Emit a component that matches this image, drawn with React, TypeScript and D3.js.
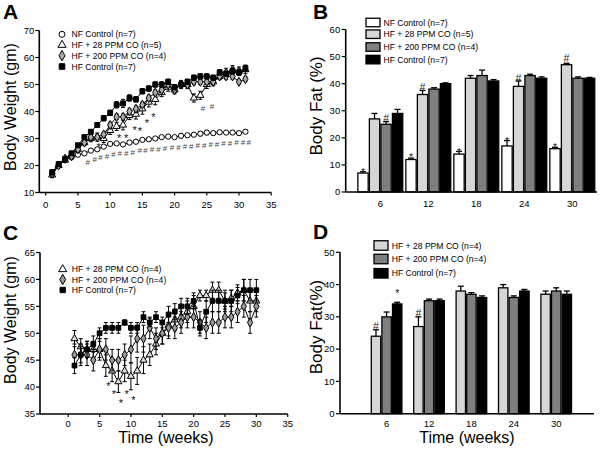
import React from 'react';
import * as d3 from 'd3';

const FONT = '"Liberation Sans", Arial, Helvetica, sans-serif';

// ---------------- Panel A data ----------------
const weeksA = [1,2,3,4,5,6,7,8,9,10,11,12,13,14,15,16,17,18,19,20,21,22,23,24,25,26,27,28,29,30,31];
const nfA = [17,20,22,23,24,24.5,25.5,26,27,28,28.2,27.8,28.5,28.8,29.5,29.7,30,30.5,30.7,30.5,31,31.2,31.4,31.8,32.2,32,32.3,32.2,32.2,32,32.5];
const nfASe = [0.8,0.5,0.5,0.5,0.5,0.5,0.5,0.5,0.5,0.5,0.5,0.5,0.5,0.5,0.5,0.5,0.5,0.5,0.5,0.5,0.6,0.6,0.6,0.8,0.8,0.6,0.6,0.6,0.6,0.6,0.6];
const hf28A = [16.5,20,22,24,26,28.5,30,30.5,30,33,34.5,35,38.5,39,41,43.5,44.5,47,49,48,50,50,45,46,50,51,53,54.5,55.5,55,55.5];
const hf28ASe = [1,0.8,0.8,0.8,1,1,1.2,1.5,1.5,1.5,1.5,1.8,1.5,1.8,2,1.8,2,1.5,1.5,1.5,1.5,1.5,1.5,1.5,1.5,1.5,1.2,1.5,1.5,1.5,1.5];
const hf200A = [17,20,22.5,23.5,26,28.5,30.5,30.5,31.5,35,38,38,40,41,42.5,45,47,48,50,48,50,50,51,51,51,51,53,53,53,51,52];
const hf200ASe = [1,0.5,0.5,0.5,0.5,0.8,0.8,0.8,0.8,1,1,1,1,1,1,1,1,1,1,1,1,1,1,1,1,1,1,1,1,0.8,0.8];
const hfcA = [17.5,20.5,22.5,24.5,27.5,30.5,32.5,35,37.5,39.5,42.5,43,45,44.5,47.5,48.5,50,50,51,49,50,51,52.5,53,53,52.5,54.5,54,55,54.5,56];
const hfcASe = [1,0.5,0.5,0.5,0.5,0.8,0.8,0.8,1,1,1.2,1.5,1.2,1,1,1,1,1,1,1,1,1,1,1,1,1,1,1,1.2,1.2,1.2];
const xTicksA = [0,5,10,15,20,25,30,35];
const yTicksA = [10,20,30,40,50,60,70];
const starsAx = [8.2,11.4,12.5,13.8,14.6,15.7,16.7];
const starsAy = [28,31,31,34.2,33.8,36.6,39.1];
const hashAx = [6.5,7.6,8.5,9.5,10.5,11.5,12.5,13.5,14.6,15.5,16.5,17.5,18.5,19.6,20.6,21.6,22.6,23.6,24.6,25.6,26.6,27.6,28.6,29.6,30.6,31.5,24.4,25.8];
const hashAy = [21.2,22.3,22.9,23.6,24.3,24.5,24.7,25,25.5,25.7,26,26.2,26.4,26.6,26.8,27,27.2,27.4,27.6,27.8,28,28.2,28.4,28.6,28.7,28.8,41.2,41.8];

// ---------------- Panel C data ----------------
const weeksC = [1,2,3,4,5,6,7,8,9,10,11,12,13,14,15,16,17,18,19,20,21,22,23,24,25,26,27,28,29,30];
const hf28C = [49,47.5,47,47,47,44,43,41,43,42,43,45,46,48,50,51.5,52.5,53,54,55,57,57,58,58,56,56.5,57.5,58,56,56];
const hf28CSe = [1.5,1.5,1.5,1.5,1.5,2,2,2,2,2.5,2.5,2.5,2,2,2,2,2,2,2,2,1,1,1.5,1.5,1.5,1.5,1.5,2,2,2];
const hf200C = [46,46,46,45,47,47,45,45,46,47,49,49,51,49,50,51,51,52,53,53,52,51,52,52,53,53,54,55,52,55];
const hf200CSe = [2,2,2,2,2,2,2,2,2,2.5,2.5,2.5,2,2,2,2,2,2,2,2,2,2,2,2,2,2,2,2,2,2];
const hfcC = [44,46,47,48,50,51,51,51,52,51,51,53,52,53,52,53.5,54,55,55,56,51,54,56,56,56,56,57,58,58,58];
const hfcCSe = [1.5,1.5,1.5,1.5,1,1,1,1,0.5,1,1,1,0.8,1,1,1.5,1.5,1.5,1.5,1.5,1.5,2,2,2,2,2,1.5,2,2,2];
const xTicksC = [0,5,10,15,20,25,30,35];
const yTicksC = [35,40,45,50,55,60,65];
const starsCx = [6.4,7.3,8.4,9.3,10.4];
const starsCy = [40.7,39.2,37.5,39.2,38];

// ---------------- Panel B data ----------------
const groupsB = ['6','12','18','24','30'];
const nfB = [7,12,14,17,16];
const nfBSe = [0.5,0.5,1,2,0.5];
const hf28B = [27,36,42,39,47];
const hf28BSe = [2,1.5,1,2,0.5];
const hf200B = [25,38,43,43,42];
const hf200BSe = [1,0.5,2,0.5,0.5];
const hfcB = [29,40,41,42,42];
const hfcBSe = [1.5,0.3,0.5,0.5,0.3];
const yTicksB = [0,10,20,30,40,50,60];
// significance marks: group index, series index, symbol, value
const marksBg = [0,0,1,1,2,3,3,4,4];
const marksBs = [0,2,0,1,0,0,1,0,1];
const marksBsym = ['*','#','*','#','*','*','#','*','#'];
const marksBv = [8.3,27.2,13.6,38.6,15.6,19.8,41.8,17.3,49.2];

// ---------------- Panel D data ----------------
const groupsD = ['6','12','18','24','30'];
const hf28D = [24,27,38,39,37];
const hf28DSe = [2,3,1.5,1,1];
const hf200D = [30,35,37,36,38];
const hf200DSe = [1.5,0.5,0.5,0.5,1];
const hfcD = [34,35,36,38,37];
const hfcDSe = [0.5,0.5,0.5,0.5,1];
const yTicksD = [0,10,20,30,40,50];
const marksDg = [0,1,0];
const marksDs = [0,0,2];
const marksDsym = ['#','#','*'];
const marksDv = [27,31,38];

const symTypes: Record<string, any> = {
  circle: d3.symbolCircle,
  triangle: d3.symbolTriangle,
  diamond: d3.symbolDiamond,
  square: d3.symbolSquare,
};

function Marker({ shape, x, y, fill, size }: any) {
  const d = d3.symbol().type(symTypes[shape]).size(size)() as string;
  return <path d={d} transform={`translate(${x},${y})`} fill={fill} stroke="#000" strokeWidth={1} />;
}

function SigText({ x, y, sym, size, color }: any) {
  const dy = sym === '*' ? 0.6 * size : 0.35 * size;
  return (
    <text x={x} y={y + dy} fontSize={size} textAnchor="middle" fill={color} fontFamily={FONT}>
      {sym}
    </text>
  );
}

function LinePanel(props: any) {
  const { xd, xr, yd, yr, xTicks, yTicks, series, legend, stars, hashes, letter, letterPos, ylabelPos, xlabel, xlabelPos, tickLabelY } = props;
  const x = d3.scaleLinear().domain(xd).range(xr);
  const y = d3.scaleLinear().domain(yd).range(yr);
  return (
    <g fontFamily={FONT} fill="#000">
      <text x={letterPos[0]} y={letterPos[1]} fontSize={21} fontWeight="bold">{letter}</text>
      <line x1={xr[0]} x2={xr[0]} y1={yr[1]} y2={yr[0]} stroke="#000" strokeWidth={1.6} />
      <line x1={xr[0]} x2={xr[1]} y1={yr[0]} y2={yr[0]} stroke="#000" strokeWidth={1.6} />
      {yTicks.map((t: number) => (
        <g key={'y' + t}>
          <line x1={xr[0] - 4} x2={xr[0]} y1={y(t)} y2={y(t)} stroke="#000" strokeWidth={1.2} />
          <text x={xr[0] - 5} y={y(t)} dy="0.35em" textAnchor="end" fontSize={9.5}>{t}</text>
        </g>
      ))}
      {xTicks.map((t: number) => (
        <g key={'x' + t}>
          <line x1={x(t)} x2={x(t)} y1={yr[0]} y2={yr[0] + 3} stroke="#000" strokeWidth={1.2} />
          <text x={x(t)} y={tickLabelY} textAnchor="middle" fontSize={9.5}>{t}</text>
        </g>
      ))}
      <text transform={`translate(${ylabelPos[0]},${ylabelPos[1]}) rotate(-90)`} textAnchor="middle" fontSize={16}>Body Weight (gm)</text>
      {xlabel && <text x={xlabelPos[0]} y={xlabelPos[1]} textAnchor="middle" fontSize={16}>{xlabel}</text>}
      {series.map((s: any, si: number) => {
        const line = d3.line<number>().x((_, i) => x(s.weeks[i])).y((v) => y(v));
        return (
          <g key={'s' + si}>
            <path d={line(s.values) as string} fill="none" stroke="#000" strokeWidth={1} />
            {s.values.map((v: number, i: number) => {
              const cx = x(s.weeks[i]);
              const top = y(v + s.se[i]);
              const bot = y(v - s.se[i]);
              return (
                <g key={i}>
                  <line x1={cx} x2={cx} y1={top} y2={bot} stroke="#000" strokeWidth={1} />
                  <line x1={cx - 2} x2={cx + 2} y1={top} y2={top} stroke="#000" strokeWidth={1} />
                  <line x1={cx - 2} x2={cx + 2} y1={bot} y2={bot} stroke="#000" strokeWidth={1} />
                </g>
              );
            })}
            {s.values.map((v: number, i: number) => (
              <Marker key={'m' + i} shape={s.shape} x={x(s.weeks[i])} y={y(v)} fill={s.fill} size={s.size} />
            ))}
          </g>
        );
      })}
      {stars.x.map((sx: number, i: number) => (
        <SigText key={'st' + i} x={x(sx)} y={y(stars.y[i])} sym="*" size={11} color="#111" />
      ))}
      {hashes && hashes.x.map((hx: number, i: number) => (
        <SigText key={'h' + i} x={x(hx)} y={y(hashes.y[i])} sym="#" size={8} color="#444" />
      ))}
      {legend.rows.map((r: any, i: number) => (
        <g key={'lg' + i}>
          <Marker shape={r.shape} x={legend.mx} y={r.y} fill={r.fill} size={r.size * 1.3} />
          <text x={legend.tx} y={r.y} dy="0.35em" fontSize={8.6}>{r.name}</text>
        </g>
      ))}
    </g>
  );
}

function BarPanel(props: any) {
  const { groups, series, xr, bandRange, pi, po, yd, yr, yTicks, legend, marks, letter, letterPos, ylabel, ylabelPos, xlabel, xlabelPos, tickLabelY } = props;
  const x0 = d3.scaleBand().domain(groups).range(bandRange).paddingInner(pi).paddingOuter(po);
  const x1 = d3.scaleBand().domain(series.map((_: any, i: number) => String(i))).range([0, x0.bandwidth()]);
  const y = d3.scaleLinear().domain(yd).range(yr);
  return (
    <g fontFamily={FONT} fill="#000">
      <text x={letterPos[0]} y={letterPos[1]} fontSize={21} fontWeight="bold">{letter}</text>
      {series.map((s: any, si: number) => (
        <g key={'bs' + si}>
          {s.values.map((v: number, gi: number) => {
            const bx = (x0(groups[gi]) as number) + (x1(String(si)) as number);
            const bw = x1.bandwidth();
            const cx = bx + bw / 2;
            const top = y(v + s.se[gi]);
            return (
              <g key={gi}>
                <line x1={cx} x2={cx} y1={y(v)} y2={top} stroke="#000" strokeWidth={1.3} />
                <line x1={cx - 3} x2={cx + 3} y1={top} y2={top} stroke="#000" strokeWidth={1.3} />
                <rect x={bx + 0.6} y={y(v)} width={bw - 1.2} height={y(0) - y(v)} fill={s.fill} stroke="#000" strokeWidth={1.3} />
              </g>
            );
          })}
        </g>
      ))}
      {marks.g.map((g: number, i: number) => {
        const bx = (x0(groups[g]) as number) + (x1(String(marks.s[i])) as number) + x1.bandwidth() / 2;
        return <SigText key={'mk' + i} x={bx} y={y(marks.v[i])} sym={marks.sym[i]} size={10.5} color="#222" />;
      })}
      <line x1={xr[0]} x2={xr[0]} y1={yr[1]} y2={yr[0]} stroke="#000" strokeWidth={1.6} />
      <line x1={xr[0]} x2={xr[1]} y1={yr[0]} y2={yr[0]} stroke="#000" strokeWidth={1.6} />
      {yTicks.map((t: number) => (
        <g key={'y' + t}>
          <line x1={xr[0] - 4} x2={xr[0]} y1={y(t)} y2={y(t)} stroke="#000" strokeWidth={1.2} />
          <text x={xr[0] - 5.5} y={y(t)} dy="0.35em" textAnchor="end" fontSize={9.5}>{t}</text>
        </g>
      ))}
      {groups.map((g: string) => (
        <text key={'gl' + g} x={(x0(g) as number) + x0.bandwidth() / 2} y={tickLabelY} textAnchor="middle" fontSize={9.5}>{g}</text>
      ))}
      <text transform={`translate(${ylabelPos[0]},${ylabelPos[1]}) rotate(-90)`} textAnchor="middle" fontSize={17}>{ylabel}</text>
      {xlabel && <text x={xlabelPos[0]} y={xlabelPos[1]} textAnchor="middle" fontSize={16}>{xlabel}</text>}
      {legend.rows.map((r: any, i: number) => (
        <g key={'lg' + i}>
          <rect x={legend.bx} y={r.y - legend.bh / 2} width={14} height={legend.bh} fill={r.fill} stroke="#000" strokeWidth={1.3} />
          <text x={legend.tx} y={r.y} dy="0.35em" fontSize={8.6}>{r.name}</text>
        </g>
      ))}
    </g>
  );
}

export default function App() {
  const seriesA = [
    { name: 'NF Control (n=7)', shape: 'circle', fill: '#fff', size: 22, weeks: weeksA, values: nfA, se: nfASe },
    { name: 'HF + 28 PPM CO (n=5)', shape: 'triangle', fill: '#fff', size: 22, weeks: weeksA, values: hf28A, se: hf28ASe },
    { name: 'HF + 200 PPM CO (n=4)', shape: 'diamond', fill: '#aaa', size: 24, weeks: weeksA, values: hf200A, se: hf200ASe },
    { name: 'HF Control (n=7)', shape: 'square', fill: '#000', size: 24, weeks: weeksA, values: hfcA, se: hfcASe },
  ];
  const legendA = {
    mx: 62, tx: 71.5,
    rows: [
      { ...seriesA[0], y: 34.3 },
      { ...seriesA[1], y: 45 },
      { ...seriesA[2], y: 55.7 },
      { ...seriesA[3], y: 66.5 },
    ],
  };
  const seriesC = [
    { name: 'HF + 28 PPM CO (n=4)', shape: 'triangle', fill: '#ddd', size: 22, weeks: weeksC, values: hf28C, se: hf28CSe },
    { name: 'HF + 200 PPM CO (n=4)', shape: 'diamond', fill: '#999', size: 24, weeks: weeksC, values: hf200C, se: hf200CSe },
    { name: 'HF Control (n=7)', shape: 'square', fill: '#000', size: 22, weeks: weeksC, values: hfcC, se: hfcCSe },
  ];
  const legendC = {
    mx: 62.7, tx: 71.7,
    rows: [
      { ...seriesC[0], fill: '#fff', y: 269.3 },
      { ...seriesC[1], y: 279.5 },
      { ...seriesC[2], y: 290 },
    ],
  };
  const seriesB = [
    { name: 'NF Control (n=7)', fill: '#ffffff', values: nfB, se: nfBSe },
    { name: 'HF + 28 PPM CO (n=5)', fill: '#d6d6d6', values: hf28B, se: hf28BSe },
    { name: 'HF + 200 PPM CO (n=4)', fill: '#7f7f7f', values: hf200B, se: hf200BSe },
    { name: 'HF Control (n=7)', fill: '#000000', values: hfcB, se: hfcBSe },
  ];
  const legendB = {
    bx: 366, tx: 383.5, bh: 8.5,
    rows: [
      { ...seriesB[0], y: 22.5 },
      { ...seriesB[1], y: 34.2 },
      { ...seriesB[2], y: 47 },
      { ...seriesB[3], y: 59.6 },
    ],
  };
  const seriesD = [
    { name: 'HF + 28 PPM CO (n=4)', fill: '#d6d6d6', values: hf28D, se: hf28DSe },
    { name: 'HF + 200 PPM CO (n=4)', fill: '#7f7f7f', values: hf200D, se: hf200DSe },
    { name: 'HF Control (n=7)', fill: '#000000', values: hfcD, se: hfcDSe },
  ];
  const legendD = {
    bx: 374, tx: 391.7, bh: 9.5,
    rows: [
      { ...seriesD[0], y: 245.5 },
      { ...seriesD[1], y: 259 },
      { ...seriesD[2], y: 273.3 },
    ],
  };
  return (
    <svg width={600} height={449} style={{ position: 'absolute', left: 0, top: 0, opacity: 0.999 }}>
      <rect width={600} height={449} fill="#fff" />
      <LinePanel
        xd={[-1, 35]} xr={[39.3, 271.2]} yd={[10, 70]} yr={[192.5, 30.5]}
        xTicks={xTicksA} yTicks={yTicksA} series={seriesA} legend={legendA}
        stars={{ x: starsAx, y: starsAy }} hashes={{ x: hashAx, y: hashAy }}
        letter="A" letterPos={[3, 19]} ylabelPos={[15.5, 107]} tickLabelY={208}
      />
      <LinePanel
        xd={[-4.5, 35]} xr={[40, 287.7]} yd={[35, 65]} yr={[414, 252.5]}
        xTicks={xTicksC} yTicks={yTicksC} series={seriesC} legend={legendC}
        stars={{ x: starsCx, y: starsCy }} hashes={null}
        letter="C" letterPos={[3, 240]} ylabelPos={[15.5, 320]}
        xlabel="Time (weeks)" xlabelPos={[166, 443]} tickLabelY={427}
      />
      <BarPanel
        groups={groupsB} series={seriesB} xr={[345.7, 597]} bandRange={[356.3, 596.3]} pi={0.04} po={0.02}
        yd={[0, 60]} yr={[192, 29.5]} yTicks={yTicksB} legend={legendB}
        marks={{ g: marksBg, s: marksBs, sym: marksBsym, v: marksBv }}
        letter="B" letterPos={[313, 19]} ylabel="Body Fat (%)" ylabelPos={[322, 106]} tickLabelY={207}
      />
      <BarPanel
        groups={groupsD} series={seriesD} xr={[340, 594]} bandRange={[365.4, 577.4]} pi={0.25} po={0.125}
        yd={[0, 50]} yr={[413.7, 252.3]} yTicks={yTicksD} legend={legendD}
        marks={{ g: marksDg, s: marksDs, sym: marksDsym, v: marksDv }}
        letter="D" letterPos={[313, 239]} ylabel="Body Fat(%)" ylabelPos={[322, 327]}
        xlabel="Time (weeks)" xlabelPos={[467, 443]} tickLabelY={427}
      />
    </svg>
  );
}
